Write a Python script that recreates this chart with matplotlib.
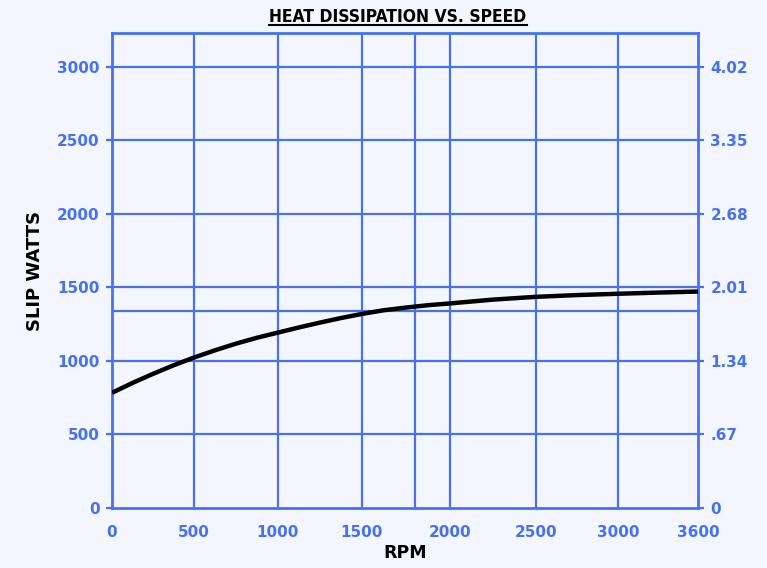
import numpy as np
import matplotlib
matplotlib.use("Agg")
import matplotlib.pyplot as plt
from matplotlib.lines import Line2D

# ---- data ----
rpm = [0, 125, 250, 375, 500, 625, 750, 875, 1000, 1125, 1250, 1375, 1500,
       1625, 1750, 1875, 2000, 2250, 2500, 2750, 3000, 3300, 3600]
watts = [783, 850, 912, 970, 1023, 1072, 1117, 1157, 1192, 1227, 1260, 1291, 1319,
         1344, 1362, 1378, 1390, 1416, 1435, 1447, 1456, 1464, 1471]

x_ticks = [0, 500, 1000, 1500, 2000, 2500, 3000, 3600]
x_tick_labels = ["0", "500", "1000", "1500", "2000", "2500", "3000", "3600"]
y_ticks = [0, 500, 1000, 1500, 2000, 2500, 3000]
y_tick_labels = ["0", "500", "1000", "1500", "2000", "2500", "3000"]
hp_labels = ["0", ".67", "1.34", "2.01", "2.68", "3.35", "4.02"]
ref_rpm = 1800
ref_watts = 1340

# piecewise axis spacing of the original (relative positions of tick values)
tick_pos = [0, 82.2, 165.9, 250.0, 337.6, 423.7, 506.4, 586.0]

def fwd(x):
    return np.interp(x, x_ticks, tick_pos)

def inv(p):
    return np.interp(p, tick_pos, x_ticks)

BLUE = "#4672f2"
BG = "#f3f6fe"

fig = plt.figure(figsize=(7.67, 5.68), dpi=100, facecolor=BG)
ax = fig.add_axes([112/767, 1-508/568, (698-112)/767, (508-33)/568])
ax.set_facecolor(BG)
ax.set_xscale("function", functions=(fwd, inv))
ax.set_xlim(0, 3600)
ax.set_ylim(0, 3228)

# grid
for xv in x_ticks[1:-1] + [ref_rpm]:
    ax.axvline(xv, color=BLUE, lw=1.6, zorder=1)
for yv in y_ticks[1:] + [ref_watts]:
    ax.axhline(yv, color=BLUE, lw=1.6, zorder=1)

for s in ax.spines.values():
    s.set_color(BLUE)
    s.set_linewidth(2.0)

ax.plot(rpm, watts, color="black", lw=3.2, solid_capstyle="butt", zorder=3)

ax.set_xticks(x_ticks)
ax.set_xticklabels(x_tick_labels)
ax.set_yticks(y_ticks)
ax.set_yticklabels(y_tick_labels)
ax.tick_params(axis="x", length=0, pad=12, labelsize=11, labelcolor=BLUE)
ax.tick_params(axis="y", length=4, width=1.6, color=BLUE, pad=5, labelsize=11, labelcolor=BLUE)
for lab in ax.get_xticklabels() + ax.get_yticklabels():
    lab.set_fontweight("bold")

ax2 = ax.twinx()
ax2.set_ylim(ax.get_ylim())
ax2.set_yticks(y_ticks)
ax2.set_yticklabels(hp_labels)
ax2.tick_params(axis="y", length=4, width=1.6, color=BLUE, pad=5, labelsize=11, labelcolor=BLUE)
for lab in ax2.get_yticklabels():
    lab.set_fontweight("bold")
for s in ax2.spines.values():
    s.set_visible(False)

ax.set_xlabel("RPM", fontsize=12.5, fontweight="bold", color="black", labelpad=3)
ax.set_ylabel("SLIP WATTS", fontsize=13, fontweight="bold", color="black", labelpad=9)

title = fig.text(398/767, 1-17/568, "HEAT DISSIPATION VS. SPEED", ha="center", va="center",
                 fontsize=12.5, fontweight="bold", color="black", family="DejaVu Sans",
                 fontstretch="condensed")
fig.canvas.draw()
r = fig.canvas.get_renderer()
bb = title.get_window_extent(renderer=r)
inv_t = fig.transFigure.inverted()
(x0, y0), (x1, y1) = inv_t.transform([(bb.x0, bb.y0), (bb.x1, bb.y1)])
fig.add_artist(Line2D([x0, x1], [y0 + 0.002, y0 + 0.002], transform=fig.transFigure,
                      color="black", lw=1.5))

fig.savefig("out.png", dpi=100, facecolor=BG)
